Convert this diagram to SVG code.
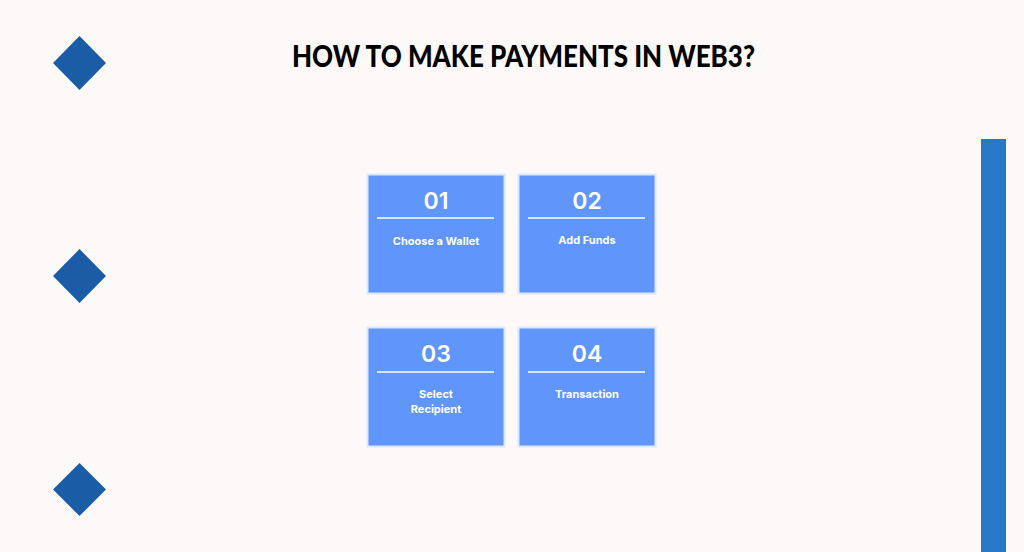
<svg xmlns="http://www.w3.org/2000/svg" width="1024" height="552" viewBox="0 0 1024 552">
<style>
.dia{fill:#1a5da6}
.box{fill:#6096fc;stroke:#dce8ff;stroke-width:2}
.rule{stroke:#ffffff;stroke-width:1.5}
.num{font-family:Inter,"Open Sans",sans-serif;font-weight:600;font-size:23px;fill:#ffffff;text-anchor:middle}
.lbl{font-family:Inter,"Open Sans",sans-serif;font-weight:700;font-size:11px;fill:#ffffff;text-anchor:middle}
.title{font-family:Lato,"Liberation Sans",sans-serif;font-weight:900;font-size:30px;fill:#000000}
</style>
<rect width="1024" height="552" fill="#fdf9f8"/>
<text class="title" x="292" y="67" textLength="463" lengthAdjust="spacingAndGlyphs">HOW TO MAKE PAYMENTS IN WEB3?</text>
<g id="diamond1"><polygon class="dia" points="79.5,36 106,63 79.5,90 53,63"/></g>
<g id="diamond2"><polygon class="dia" points="79.5,249 106,276 79.5,303 53,276"/></g>
<g id="diamond3"><polygon class="dia" points="79.5,463 106,489.5 79.5,516 53,489.5"/></g>
<rect id="bar" x="981" y="139" width="25" height="413" fill="#2878c7"/>
<g id="connectors"></g>
<g id="step1">
<rect class="box" x="367.5" y="174.5" width="137" height="119"/>
<text class="num" x="436" y="209">01</text>
<line class="rule" x1="377" y1="218" x2="494" y2="218"/>
<text class="lbl" x="436" y="245">Choose a Wallet</text>
</g>
<g id="step2">
<rect class="box" x="518.5" y="174.5" width="137" height="119"/>
<text class="num" x="587" y="209">02</text>
<line class="rule" x1="528" y1="218" x2="645" y2="218"/>
<text class="lbl" x="587" y="244">Add Funds</text>
</g>
<g id="step3">
<rect class="box" x="367.5" y="327.5" width="137" height="119"/>
<text class="num" x="436" y="362">03</text>
<line class="rule" x1="377" y1="372" x2="494" y2="372"/>
<text class="lbl" x="436" y="398">Select</text>
<text class="lbl" x="436" y="413">Recipient</text>
</g>
<g id="step4">
<rect class="box" x="518.5" y="327.5" width="137" height="119"/>
<text class="num" x="587" y="362">04</text>
<line class="rule" x1="528" y1="372" x2="645" y2="372"/>
<text class="lbl" x="587" y="398">Transaction</text>
</g>
</svg>
